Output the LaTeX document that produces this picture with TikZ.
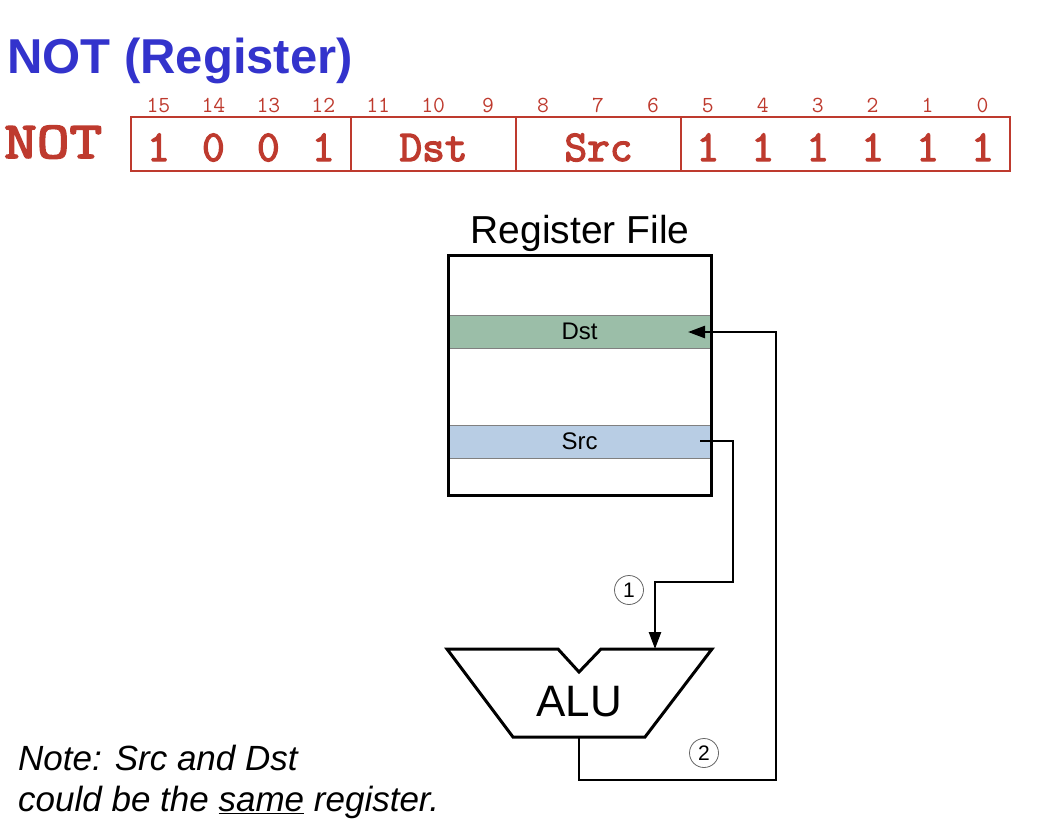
\documentclass[tikz,border=0pt]{standalone}
\usepackage{fontspec}
\setmainfont{Liberation Sans}
\newfontfamily\ttbold[FakeBold=3]{Latin Modern Mono}
\usetikzlibrary{arrows.meta}
\definecolor{instr}{RGB}{190,58,46}
\definecolor{titleblue}{RGB}{51,51,204}
\definecolor{dstgreen}{RGB}{155,190,168}
\definecolor{srcblue}{RGB}{184,205,228}
\newcommand{\fsz}[1]{\fontsize{#1}{#1}\selectfont}
\begin{document}
\begin{tikzpicture}[x=1pt,y=-1pt,
  field/.style={draw=instr, line width=2.5pt, minimum height=54pt, inner sep=0pt},
  bitnum/.style={anchor=base, text=instr, font=\ttfamily\fsz{23}, inner sep=0pt},
  bitval/.style={anchor=base, text=instr, font=\ttbold\fsz{44}, inner sep=0pt},
  regrow/.style={draw=gray, line width=0.8pt, minimum width=261pt, minimum height=33pt, inner sep=0pt, font=\fsz{24}},
  wire/.style={line width=2.4pt, line join=miter},
  tip/.style={-{Triangle[length=17pt,width=12pt]}},
  step num/.style={circle, draw=gray!80!black, line width=0.8pt, minimum size=29pt, inner sep=0pt, font=\fsz{21}},
]
\useasboundingbox (0,0) rectangle (1040,838);

% title
\node[anchor=base west, inner sep=0pt, text=titleblue, font=\bfseries\fsz{49}] (title) at (7,73) {NOT (Register)};

% instruction format
\node[anchor=base west, inner sep=0pt, text=instr, font=\ttbold\fsz{52}] (opname) at (4,158) {\scalebox{1.22}[1]{NOT}};
\node[field, minimum width=220pt] (opf)  at (241,144) {};
\node[field, minimum width=165pt] (dstf) at (433.5,144) {};
\node[field, minimum width=165pt] (srcf) at (598.5,144) {};
\node[field, minimum width=329pt] (onef) at (845.5,144) {};

\foreach \b in {0,...,15} {
  \pgfmathsetmacro{\bx}{131+(15-\b+0.5)*54.9375}
  \node[bitnum] (n\b) at (\bx,112) {\b};
}
\foreach \b/\v in {15/1,14/0,13/0,12/1,5/1,4/1,3/1,2/1,1/1,0/1} {
  \pgfmathsetmacro{\bx}{131+(15-\b+0.5)*54.9375}
  \node[bitval] (v\b) at (\bx,161) {\v};
}
\node[bitval] (dsttxt) at (433.5,161) {Dst};
\node[bitval] (srctxt) at (598.5,161) {Src};

% register file
\node[anchor=base, inner sep=0pt, font=\fsz{39}] (rflabel) at (580,243) {Register File};
\node[regrow, fill=dstgreen] (dst) at (579.5,331.5) {Dst};
\node[regrow, fill=srcblue] (src) at (579.5,441.5) {Src};
\node[draw, line width=3pt, minimum width=263pt, minimum height=240pt, inner sep=0pt] (rf) at (579.5,375) {};

% ALU
\draw[line width=3pt, line join=miter] (447,649) -- (558,649) -- (579,672) -- (601,649) -- (712,649) -- (645,737) -- (513,737) -- cycle;
\node[inner sep=0pt, font=\fsz{44}] (alu) at (579,702) {ALU};
\coordinate (aluin) at (655,649);
\coordinate (aluout) at (579,737);
\coordinate (srcout) at (700,441);
\coordinate (dstin) at (688,332);

% connectors
\draw[wire, tip] (srcout) -- (733,441) -- (733,582) -- (655,582) -- (aluin);
\draw[wire, tip] (aluout) -- (579,780) -- (776,780) -- (776,332) -- (dstin);

\node[step num] (c1) at (629,590) {1};
\node[step num] (c2) at (704,753) {2};

% note
\node[anchor=base west, inner sep=0pt, font=\itshape\fsz{35}] (note1) at (18,770) {Note: Src and Dst};
\node[anchor=base west, inner sep=0pt, font=\itshape\fsz{35}] (note2) at (18,811) {could be the \underline{same} register.};
\end{tikzpicture}
\end{document}
